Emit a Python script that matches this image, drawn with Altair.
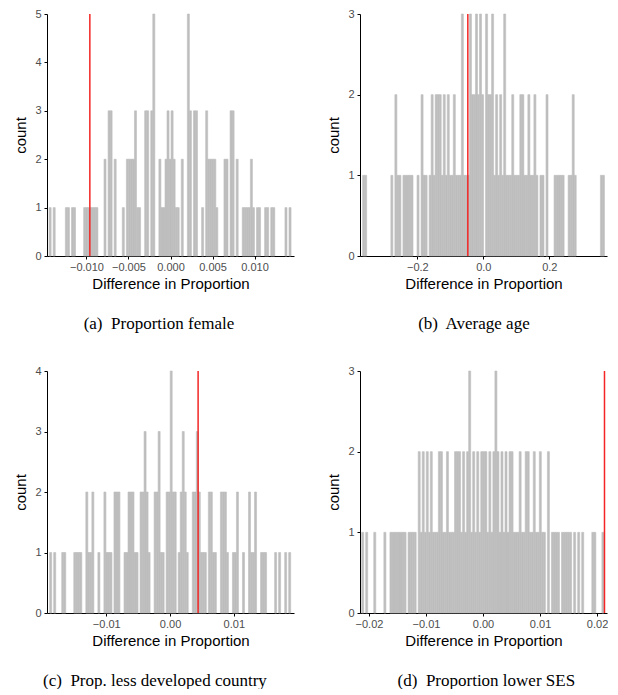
import altair as alt
import pandas as pd

# ---- data: histogram bin counts (120 bins per panel) ----
counts_a = [1,0,1,0,0,0,0,0,1,1, 0,1,1,0,0,0,0,1,1,1, 1,1,1,1,0,0,0,2,0,3,
            3,0,2,0,0,0,1,0,2,2, 2,2,3,1,1,0,0,3,3,0, 3,5,0,0,2,1,1,2,3,2,
            3,2,1,1,0,2,0,0,5,3, 0,3,3,0,0,1,0,3,2,2, 2,2,1,0,0,0,2,2,0,3,
            3,0,2,0,0,1,1,1,1,2, 1,0,1,1,0,0,1,1,0,1, 1,0,0,0,0,0,1,0,1,0]
counts_b = [1,1,0,0,0,0,0,0,0,0, 0,0,0,0,1,0,2,1,1,0, 1,1,1,1,1,0,0,1,0,2,
            1,1,0,1,2,1,2,2,2,1, 2,1,2,1,1,2,1,1,1,3, 1,1,1,3,2,2,3,2,3,2,
            0,3,2,2,3,1,2,1,2,1, 3,1,1,1,2,1,1,1,2,2, 1,1,2,1,1,2,1,0,1,1,
            0,2,0,0,0,1,1,1,1,1, 0,0,1,1,2,1,0,0,0,0, 0,0,0,0,0,0,0,0,1,1]
counts_c = [1,0,1,0,0,0,1,1,0,0, 0,0,1,1,1,1,0,0,2,1, 1,2,0,0,1,0,0,2,1,1,
            1,0,2,2,2,0,0,1,1,2, 2,2,1,1,0,2,2,3,2,1, 0,0,2,2,3,1,1,0,2,2,
            4,2,2,0,1,2,3,2,1,0, 0,2,2,3,2,1,1,1,0,2, 2,1,1,0,0,2,2,2,1,0,
            0,1,1,2,0,0,1,0,0,2, 1,1,2,0,0,1,1,1,0,0, 0,0,1,0,1,0,0,1,0,1]
counts_d = [1,0,1,0,0,0,1,0,0,0, 0,1,0,0,1,1,1,1,1,1, 1,1,0,1,1,1,1,0,2,1,
            2,1,2,1,2,1,1,1,2,2, 1,1,2,1,1,1,2,2,2,1, 2,1,2,3,1,2,1,2,1,2,
            2,2,1,2,1,2,3,2,1,2, 1,2,1,2,2,1,1,1,2,1, 1,2,2,1,1,2,1,1,2,1,
            1,0,2,0,1,1,1,1,0,1, 1,1,1,1,0,1,0,1,0,1, 0,0,0,0,1,1,0,0,0,1]

bin_start = [-0.01445, -0.366, -0.01888, -0.02128]
bin_width = [0.000242, 0.00611, 0.000315, 0.000354]
x_domains = [[-0.0147, 0.0147], [-0.374, 0.375], [-0.0193, 0.01944], [-0.02157, 0.02174]]
x_ticks = [[-0.010, -0.005, 0.0, 0.005, 0.010], [-0.2, 0.0, 0.2],
           [-0.01, 0.0, 0.01], [-0.02, -0.01, 0.0, 0.01, 0.02]]
x_formats = [".3f", ".1f", ".2f", ".2f"]
y_max = [5, 3, 4, 3]
observed = [-0.0096, -0.047, 0.0044, 0.0213]
captions = ["(a)\u00a0 Proportion female", "(b)\u00a0 Average age",
            "(c)\u00a0 Prop. less developed country", "(d)\u00a0 Proportion lower SES"]
caption_dx = [5, 7, 1, 19]
all_counts = [counts_a, counts_b, counts_c, counts_d]


def panel(i):
    counts = all_counts[i]
    x0 = [bin_start[i] + k * bin_width[i] for k in range(len(counts))]
    df = pd.DataFrame({"x0": x0, "x1": [v + bin_width[i] for v in x0], "count": counts})
    df = df[df["count"] > 0]
    bars = alt.Chart(df).mark_bar(color="#BEBEBE", stroke="#BEBEBE", strokeWidth=0.6).encode(
        x=alt.X("x0:Q",
                scale=alt.Scale(domain=x_domains[i], nice=False, zero=False),
                axis=alt.Axis(values=x_ticks[i], format=x_formats[i],
                              title="Difference in Proportion", grid=False,
                              labelPadding=2, titlePadding=4)),
        x2="x1:Q",
        y=alt.Y("count:Q",
                scale=alt.Scale(domain=[0, y_max[i]], nice=False),
                axis=alt.Axis(values=list(range(y_max[i] + 1)), format="d",
                              title="count", grid=False,
                              labelPadding=3, titlePadding=6)),
        y2=alt.datum(0),
    )
    rule = alt.Chart(pd.DataFrame({"v": [observed[i]]})).mark_rule(
        color="#F42525", strokeWidth=1.5).encode(x="v:Q")
    return alt.layer(bars, rule).properties(
        width=247, height=242,
        title=alt.TitleParams(text=captions[i], orient="bottom", anchor="middle",
                              frame="bounds", font="Liberation Serif", fontSize=17,
                              fontWeight="normal", color="black", offset=25,
                              dx=caption_dx[i]),
    )


row1 = alt.hconcat(panel(0), panel(1), spacing=32)
row2 = alt.hconcat(panel(2), panel(3), spacing=32)
chart = alt.vconcat(row1, row2, spacing=33).properties(
    padding={"left": 5, "top": 0, "right": 0, "bottom": 0}
).configure_axis(
    domainColor="black", tickColor="black", labelColor="#4D4D4D",
    labelFont="Liberation Sans", labelFontSize=11,
    titleFont="Liberation Sans", titleFontSize=15, titleFontWeight="normal",
    titleColor="black", tickSize=3, domainWidth=1,
).configure_view(stroke=None)

chart.save("out.html", embed_options={"renderer": "svg", "actions": False})
